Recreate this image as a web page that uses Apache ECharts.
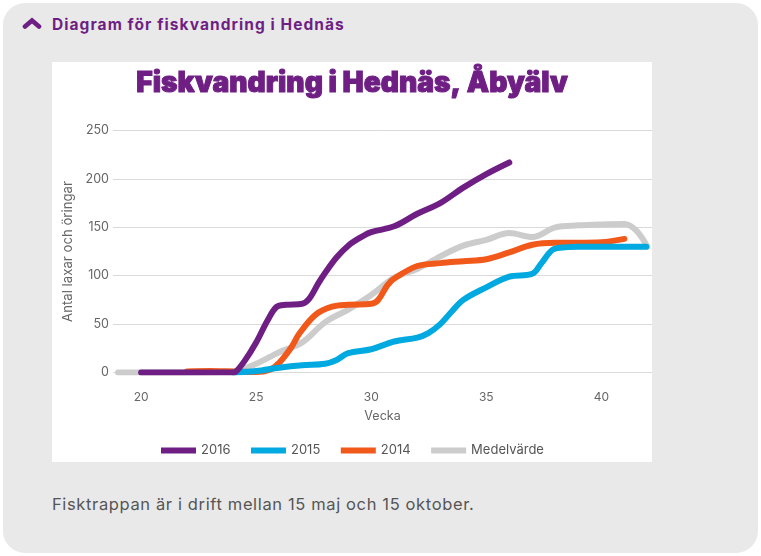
<!DOCTYPE html>
<html>
<head>
<meta charset="utf-8">
<title>Fiskvandring i Hednäs</title>
<script src="https://cdn.jsdelivr.net/npm/echarts@6/dist/echarts.min.js"></script>
<style>
    html, body { margin: 0; padding: 0; background: #fff; }
    body { width: 761px; height: 556px; position: relative; overflow: hidden; font-family: Inter, sans-serif; }
    #panel { position: absolute; left: 3px; top: 3px; width: 755px; height: 550px; background: #e9e9e9; border-radius: 22px; }
    #head { position: absolute; left: 52px; top: 15px; font-size: 15.5px; font-weight: 700; color: #6f1f84; white-space: nowrap; letter-spacing: 1.06px; }
    #arrow { position: absolute; left: 22px; top: 17px; }
    #chart { position: absolute; left: 52px; top: 62px; width: 600px; height: 400px; background: #fff; }
    #foot { position: absolute; left: 52px; top: 494px; font-size: 16.5px; color: #555; white-space: nowrap; letter-spacing: 0.63px; }
</style>
</head>
<body>
<div id="panel"></div>
<svg id="arrow" width="20" height="13" viewBox="0 0 20 13"><path d="M3 9.5 L10 3.5 L17 9.5" fill="none" stroke="#6f1f84" stroke-width="4.6" stroke-linecap="round"/></svg>
<div id="head">Diagram för fiskvandring i Hednäs</div>
<div id="chart"></div>
<div id="foot">Fisktrappan är i drift mellan 15 maj och 15 oktober.</div>
<script>
    // [vecka, antal]
    var weekTicks = [20, 25, 30, 35, 40];
    var valueTicks = [0, 50, 100, 150, 200, 250];
    var y2016 = [[20, 0], [22, 0], [24, 0], [24.1, 0.5], [24.5, 12], [25, 31], [25.5, 54], [25.9, 68], [26.3, 70], [27, 71], [27.3, 76], [27.7, 92], [28, 103], [28.5, 119], [29, 131], [29.5, 139], [30, 145], [31, 151], [32, 164], [33, 175], [34, 191], [35, 205], [36, 217]];
    var y2015 = [[24, 0], [25, 1.5], [26, 5], [27, 7.5], [28, 9], [28.5, 13], [29, 20], [30, 24], [31, 32], [32, 36], [32.5, 41], [33, 50], [33.5, 63], [34, 75], [35, 88], [36, 99], [37, 102], [37.4, 113], [37.9, 127], [38.5, 129.5], [39, 130], [40, 130], [41, 130], [41.95, 130]];
    var y2014 = [[22, 1], [23, 1.5], [24, 1], [25, 0.5], [25.6, 3], [26, 10], [26.5, 25], [26.9, 41], [27.6, 60], [28.3, 68], [29, 70], [30, 71], [30.3, 75], [30.7, 90], [31, 97], [32, 110], [33, 113], [34, 115], [35, 117], [36, 124], [37, 132], [38, 134], [39, 134], [40, 134.5], [41, 138]];
    var medel = [[19, 0], [21, 0], [24, 1], [25, 9], [26, 21], [27, 31], [28, 52], [29, 65], [30, 80], [31, 98], [32, 107], [33, 120], [34, 131], [35, 137], [36, 144], [37, 140], [38, 150], [39, 152], [40, 153], [41, 153.5], [41.5, 147], [42, 130]];

    var colors = { y2016: '#6f1f84', y2015: '#00a9e0', y2014: '#f0591a', medel: '#cccccc' };

    function lineSeries(name, data, color, z) {
        return {
            name: name,
            type: 'line',
            data: data,
            z: z,
            smooth: 0.35,
            showSymbol: false,
            silent: true,
            lineStyle: { color: color, width: 6, cap: 'round', join: 'round' },
            itemStyle: { color: color }
        };
    }

    var myChart = echarts.init(document.getElementById('chart'));
    var option = {
        animation: false,
        backgroundColor: '#fff',
        textStyle: { fontFamily: 'Inter, sans-serif' },
        title: {
            text: 'Fiskvandring i Hednäs, Åbyälv',
            left: 'center',
            top: 3,
            textStyle: { color: '#6f1f84', fontSize: 28.2, fontWeight: 900, fontFamily: 'Inter', textBorderColor: '#6f1f84', textBorderWidth: 1 }
        },
        legend: {
            bottom: 0,
            left: 104,
            icon: 'path://M0 0H35V6H0Z',
            itemWidth: 35,
            itemHeight: 6,
            itemGap: 20.5,
            itemStyle: { borderWidth: 0, borderColor: 'transparent' },
            lineStyle: { width: 0, color: 'transparent', opacity: 0 },
            textStyle: { color: '#555', fontSize: 13 },
            data: ['2016', '2015', '2014', 'Medelvärde']
        },
        grid: { left: 61, right: 0, top: 68.5, height: 242 },
        xAxis: {
            type: 'value',
            min: 18.78,
            max: 42.2,
            name: 'Vecka',
            nameLocation: 'middle',
            nameGap: 37,
            nameTextStyle: { color: '#666', fontSize: 12.5 },
            axisLine: { show: false },
            axisTick: { show: false },
            splitLine: { show: false },
            axisLabel: { customValues: weekTicks, color: '#666', fontSize: 12, margin: 19 }
        },
        yAxis: {
            type: 'value',
            min: 0,
            max: 250,
            interval: 50,
            name: 'Antal laxar och öringar',
            nameLocation: 'middle',
            nameGap: 28,
            nameTextStyle: { color: '#666', fontSize: 13.2 },
            axisLine: { show: false },
            axisTick: { show: false },
            axisLabel: { color: '#666', fontSize: 12.5, margin: 4, formatter: function (v) { return valueTicks.indexOf(v) >= 0 ? v : ''; } },
            splitLine: { lineStyle: { color: '#d9d9d9', width: 1 } }
        },
        series: [
            lineSeries('2016', y2016, colors.y2016, 5),
            lineSeries('2015', y2015, colors.y2015, 4),
            lineSeries('2014', y2014, colors.y2014, 3),
            lineSeries('Medelvärde', medel, colors.medel, 2)
        ]
    };
    myChart.setOption(option);
</script>
</body>
</html>
